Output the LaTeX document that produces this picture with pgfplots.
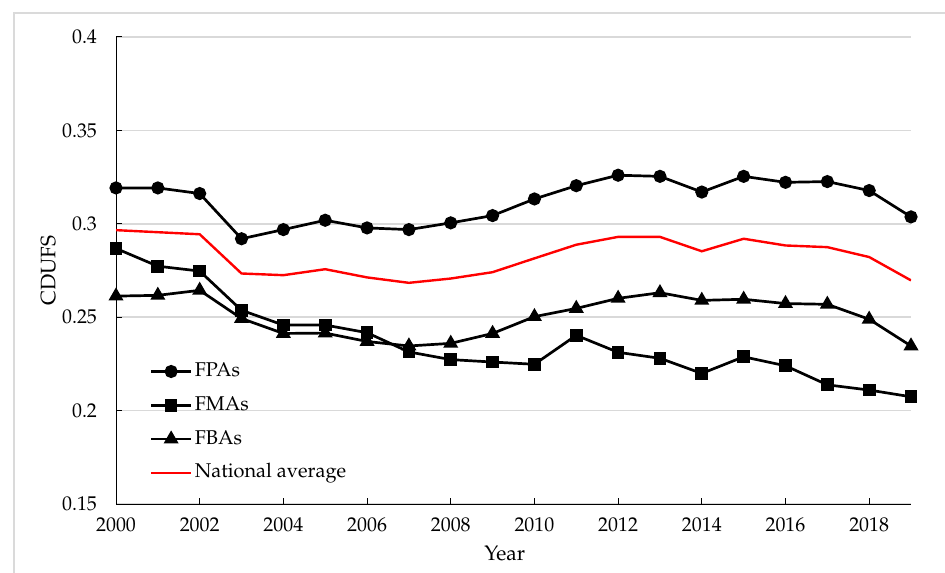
\documentclass[border=0pt]{standalone}
\usepackage[T1]{fontenc}
\usepackage{mathpazo}
\usepackage{pgfplots}
\usepackage{pgfplotstable}
\pgfplotsset{compat=1.18}
\definecolor{gridgray}{RGB}{217,217,217}
\definecolor{framegray}{RGB}{218,218,218}
\pgfplotstableread{
year fpa fma fba nat
2000 0.3192 0.2868 0.2613 0.2966
2001 0.3192 0.2773 0.2617 0.2955
2002 0.3162 0.2747 0.2644 0.2944
2003 0.2920 0.2537 0.2493 0.2734
2004 0.2969 0.2458 0.2413 0.2725
2005 0.3019 0.2458 0.2415 0.2757
2006 0.2978 0.2417 0.2370 0.2713
2007 0.2969 0.2314 0.2346 0.2684
2008 0.3005 0.2273 0.2360 0.2707
2009 0.3044 0.2260 0.2413 0.2741
2010 0.3133 0.2248 0.2503 0.2815
2011 0.3204 0.2403 0.2547 0.2888
2012 0.3260 0.2312 0.2601 0.2930
2013 0.3254 0.2280 0.2631 0.2930
2014 0.3170 0.2199 0.2590 0.2853
2015 0.3254 0.2288 0.2596 0.2920
2016 0.3222 0.2240 0.2573 0.2884
2017 0.3226 0.2138 0.2569 0.2875
2018 0.3178 0.2110 0.2489 0.2822
2019 0.3037 0.2074 0.2346 0.2697
}\datatable
\begin{document}
\begin{tikzpicture}[x=1bp,y=1bp]
\path[use as bounding box] (0,0) rectangle (472.5,286);
\draw[framegray, line width=0.7bp] (7,-5) -- (7,279.5) -- (480,279.5);
\begin{axis}[
  at={(58bp,34bp)}, anchor=south west,
  scale only axis, width=397.5bp, height=233.5bp,
  xmin=2000, xmax=2019, ymin=0.15, ymax=0.4,
  xtick={2000,2002,2004,2006,2008,2010,2012,2014,2016,2018},
  ytick={0.15,0.2,0.25,0.3,0.35,0.4},
  yticklabels={0.15,0.2,0.25,0.3,0.35,0.4},
  axis x line*=bottom, axis y line*=left,
  axis line style={-, black, line width=0.5bp},
  ymajorgrids, grid style={gridgray, line width=0.8bp},
  tick align=inside, major tick length=3bp,
  tick style={black, line width=0.5bp},
  xticklabel style={/pgf/number format/1000 sep={}, yshift=-3.5bp},
  yticklabel style={xshift=-6bp},
  ticklabel style={font=\fontsize{10}{12}\selectfont},
  xlabel={Year}, ylabel={CDUFS},
  label style={font=\fontsize{10.5}{12}\selectfont},
  xlabel style={at={(axis description cs:0.489,-0.105)}, anchor=center},
  ylabel style={at={(axis description cs:-0.085,0.5)}, anchor=center},
  legend style={at={(axis description cs:0.042,0.309)}, anchor=north west,
    draw=none, fill=none, inner sep=0bp, row sep=5.5bp,
    font=\fontsize{10}{12}\selectfont,
    nodes={inner sep=1.2bp, text height=7bp, text depth=2bp}},
  legend cell align=left,
  legend image code/.code={\draw[mark repeat=2,mark phase=2] plot coordinates {(0bp,0bp) (10bp,0bp) (20bp,0bp)};},
]
\addplot[black, line width=1.35bp, mark=*, mark size=2.6bp] table[x=year,y=fpa] {\datatable};
\addlegendentry{FPAs}
\addplot[black, line width=1.35bp, mark=square*, mark size=2.5bp] table[x=year,y=fma] {\datatable};
\addlegendentry{FMAs}
\addplot[black, line width=1.35bp, mark=triangle*, mark size=3bp] table[x=year,y=fba] {\datatable};
\addlegendentry{FBAs}
\addplot[red, line width=1.2bp, no marks] table[x=year,y=nat] {\datatable};
\addlegendentry{National average}
\end{axis}
\end{tikzpicture}
\end{document}
